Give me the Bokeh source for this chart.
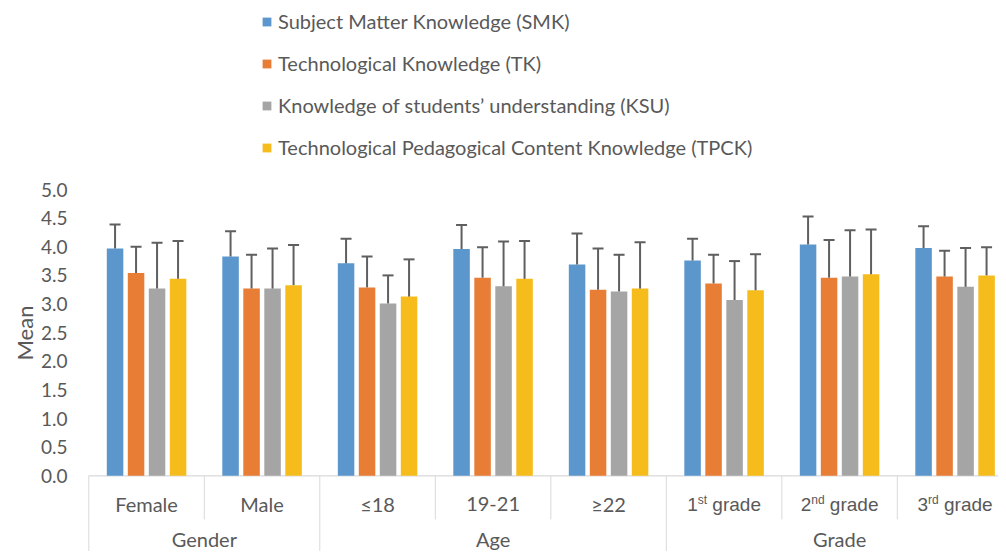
import re
from bokeh.plotting import figure
from bokeh.models import (ColumnDataSource, Range1d, FixedTicker, NumeralTickFormatter,
                          Whisker, TeeHead, Legend, LegendItem, Title)
from bokeh.core.properties import value
from bokeh.embed import file_html
from bokeh.resources import INLINE

# ---------------- data ----------------
categories = ["Female", "Male", "≤18", "19-21", "≥22", "1st grade", "2nd grade", "3rd grade"]
groups = ["Gender", "Age", "Grade"]
group_sizes = [2, 3, 3]

series_names = ["Subject Matter Knowledge (SMK)", "Technological Knowledge (TK)",
                "Knowledge of students’ understanding (KSU)",
                "Technological Pedagogical Content Knowledge (TPCK)"]

smk_mean = [3.97, 3.83, 3.71, 3.96, 3.69, 3.76, 4.04, 3.98]
smk_sd = [0.42, 0.44, 0.43, 0.42, 0.54, 0.38, 0.49, 0.38]
tk_mean = [3.54, 3.27, 3.29, 3.46, 3.25, 3.36, 3.46, 3.48]
tk_sd = [0.46, 0.59, 0.54, 0.53, 0.72, 0.50, 0.66, 0.45]
ksu_mean = [3.27, 3.27, 3.01, 3.31, 3.22, 3.07, 3.48, 3.30]
ksu_sd = [0.80, 0.70, 0.49, 0.78, 0.64, 0.68, 0.81, 0.68]
tpck_mean = [3.44, 3.33, 3.13, 3.44, 3.27, 3.24, 3.52, 3.50]
tpck_sd = [0.66, 0.70, 0.65, 0.66, 0.81, 0.63, 0.78, 0.49]

y_ticks = [0.0, 0.5, 1.0, 1.5, 2.0, 2.5, 3.0, 3.5, 4.0, 4.5, 5.0]

# ---------------- style ----------------
colors = ["#5B97CC", "#E87D36", "#A5A5A5", "#F6BC1C"]
TXT = "#595959"
LINE = "#D9D9D9"
ERR = "#5F5F5F"
FONT = "Lato"
SUPFONT = "Liberation Sans"

means = [smk_mean, tk_mean, ksu_mean, tpck_mean]
sds = [smk_sd, tk_sd, ksu_sd, tpck_sd]

n = len(categories)
pitch = 0.1818
bar_w = 0.143
Y0, Y1 = -1.322, 8.301

p = figure(width=998, height=551, output_backend="svg", toolbar_location=None,
           x_range=Range1d(-0.0113, 7.876), y_range=Range1d(Y0, Y1),
           x_axis_type=None, min_border_left=87, min_border_right=0,
           min_border_top=0, min_border_bottom=0)
p.outline_line_color = None
p.ygrid.grid_line_color = None
p.background_fill_color = "white"
p.border_fill_color = "white"

yax = p.yaxis[0]
yax.ticker = FixedTicker(ticks=y_ticks)
yax.formatter = NumeralTickFormatter(format="0.0")
yax.axis_line_color = None
yax.major_tick_line_color = None
yax.minor_tick_line_color = None
yax.major_tick_out = 0
yax.major_tick_in = 0
yax.major_label_standoff = 20
yax.major_label_text_font = FONT
yax.major_label_text_font_size = "19px"
yax.major_label_text_color = TXT

# y axis title, placed in the left panel
ttl = Title(text="Mean", align="left", offset=191, text_font=FONT,
            text_font_size="22px", text_font_style="normal", text_color=TXT,
            standoff=0)
p.add_layout(ttl, "left")

# category table lines
bx0, bx1, by0, by1 = [], [], [], []
group_edges = [0]
for s in group_sizes:
    group_edges.append(group_edges[-1] + s)
for b in range(n + 1):
    bx0.append(b); bx1.append(b); by0.append(0)
    by1.append(Y0 if b in group_edges else -0.763)
p.segment(x0=bx0, y0=by0, x1=bx1, y1=by1, line_color=LINE, line_width=1)
p.segment(x0=[0], y0=[0], x1=[n], y1=[0], line_color=LINE, line_width=1.3)

# bars and error bars
items = []
for j, name in enumerate(series_names):
    xs = [i + 0.5 + (j - 1.5) * pitch for i in range(n)]
    src = ColumnDataSource(dict(x=xs, top=means[j],
                                upper=[m + s for m, s in zip(means[j], sds[j])]))
    r = p.vbar(x="x", top="top", bottom=0, width=bar_w, source=src,
               fill_color=colors[j], line_color=None)
    items.append(LegendItem(label=name, renderers=[r]))
    w = Whisker(base="x", lower="top", upper="upper", source=src,
                line_color=ERR, line_width=2, level="overlay",
                upper_head=TeeHead(size=11, line_color=ERR, line_width=2),
                lower_head=None)
    p.add_layout(w)

# category labels (with superscript ordinals)
adv = {"1": 0.556, "2": 0.556, "3": 0.556, "s": 0.5, "t": 0.278, "n": 0.556,
       "d": 0.556, "r": 0.333, " ": 0.278, "g": 0.556, "a": 0.556, "e": 0.556}
MAIN, SUP = 19, 12
plain_x, plain_t = [], []
m_x, m_t, m_off = [], [], []
s_x, s_t, s_off = [], [], []
for i, c in enumerate(categories):
    cx = i + 0.5
    mt = re.match(r"^(\d)(st|nd|rd) (.*)$", c)
    if mt:
        a, sup, rest = mt.groups()
        wa = sum(adv.get(ch, 0.556) for ch in a) * MAIN
        ws = sum(adv.get(ch, 0.556) for ch in sup) * SUP
        wsp = adv[" "] * MAIN
        wr = sum(adv.get(ch, 0.556) for ch in rest) * MAIN
        start = -(wa + ws + wsp + wr) / 2
        m_x += [cx, cx]; m_t += [a, rest]; m_off += [start, start + wa + ws + wsp]
        s_x.append(cx); s_t.append(sup); s_off.append(start + wa)
    else:
        plain_x.append(cx); plain_t.append(c)

YC, YG = -0.50, -1.10
p.text(x=plain_x, y=[YC] * len(plain_x), text=plain_t, text_font=value(FONT),
       text_font_size=value("20px"), text_color=TXT, text_align="center",
       text_baseline="middle")
p.text(x=m_x, y=[YC] * len(m_x), text=m_t, x_offset=m_off, text_font=value(SUPFONT),
       text_font_size=value(f"{MAIN}px"), text_color=TXT, text_align="left",
       text_baseline="middle")
p.text(x=s_x, y=[YC] * len(s_x), text=s_t, x_offset=s_off, y_offset=-4,
       text_font=value(SUPFONT), text_font_size=value(f"{SUP}px"), text_color=TXT,
       text_align="left", text_baseline="middle")

gx = [(group_edges[k] + group_edges[k + 1]) / 2 for k in range(len(groups))]
p.text(x=gx, y=[YG] * len(gx), text=groups, text_font=value(FONT),
       text_font_size=value("20px"), text_color=TXT, text_align="center",
       text_baseline="middle")

legend = Legend(items=items, location=(174, 392), orientation="vertical",
                label_text_font=FONT, label_text_font_size="20px",
                label_text_color=TXT, label_standoff=6, glyph_width=11,
                glyph_height=11, label_height=24, spacing=18, padding=0, margin=0,
                border_line_color=None, background_fill_alpha=0)
p.add_layout(legend, "center")

open("out.html", "w").write(file_html(p, INLINE))
